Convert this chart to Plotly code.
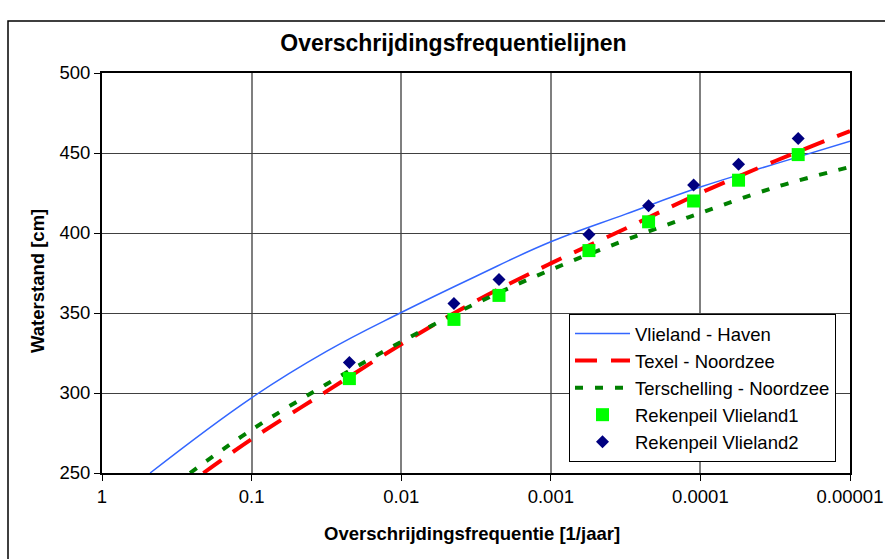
import plotly.graph_objects as go

# ---- data ----
vl_freq = [0.477, 0.1, 0.0316, 0.01, 0.00316, 0.001, 0.000316, 0.0001, 0.0000316, 0.00001]
vl_val = [250, 297, 326, 350.3, 373, 394.5, 411.8, 428.7, 443.2, 457.3]

tx_freq = [0.21, 0.1, 0.0316, 0.01, 0.00316, 0.001, 0.000316, 0.0001, 0.0000316, 0.00001]
tx_val = [250, 271.2, 301, 330.5, 357.5, 381, 402.8, 425, 445, 463.7]

ts_freq = [0.258, 0.1, 0.0316, 0.01, 0.00316, 0.001, 0.000316, 0.0001, 0.0000316, 0.00001]
ts_val = [250, 277, 305.5, 332, 356, 377, 395.6, 412.5, 428.6, 441.3]

pt_freq = [0.0222, 0.00444, 0.00222, 0.000556, 0.000222, 0.000111, 0.0000556, 0.0000222]
rek1 = [309, 346, 361, 389, 407, 420, 433, 449]
rek2 = [319, 356, 371, 399, 417, 430, 443, 459]

x_ticks = [1, 0.1, 0.01, 0.001, 0.0001, 0.00001]
x_ticktext = ["1", "0.1", "0.01", "0.001", "0.0001", "0.00001"]
y_ticks = [250, 300, 350, 400, 450, 500]

FONT = "Liberation Sans, Arial, sans-serif"

fig = go.Figure()
fig.add_trace(go.Scatter(x=vl_freq, y=vl_val, mode="lines", name="Vlieland - Haven",
                         line=dict(color="#3366ff", width=1.5, shape="spline", smoothing=1.2)))
fig.add_trace(go.Scatter(x=tx_freq, y=tx_val, mode="lines", name="Texel - Noordzee",
                         line=dict(color="#ff0000", width=4, dash="22px,14px", shape="spline", smoothing=1.0)))
fig.add_trace(go.Scatter(x=ts_freq, y=ts_val, mode="lines", name="Terschelling - Noordzee",
                         line=dict(color="#008000", width=4, dash="8px,12px", shape="spline", smoothing=1.0)))
fig.add_trace(go.Scatter(x=pt_freq, y=rek1, mode="markers", name="Rekenpeil Vlieland1",
                         marker=dict(symbol="square", size=13, color="#00ff00")))
fig.add_trace(go.Scatter(x=pt_freq, y=rek2, mode="markers", name="Rekenpeil Vlieland2",
                         marker=dict(symbol="diamond", size=10, color="#000080")))

L, R, T, B = 102, 35, 73, 86
W, H = 885, 559
pw = W - L - R
ph = H - T - B

fig.update_layout(
    width=W, height=H,
    margin=dict(l=L, r=R, t=T, b=B),
    paper_bgcolor="white", plot_bgcolor="white",
    font=dict(family=FONT, size=18, color="black"),
    title=dict(text="<b>Overschrijdingsfrequentielijnen</b>", x=453.5 / W, xanchor="center",
               y=1 - 43 / H, yanchor="middle", font=dict(size=23, family=FONT, color="black")),
    showlegend=True,
    legend=dict(x=(569 - L) / pw, y=(473 - 314) / ph, xanchor="left", yanchor="top",
                bgcolor="white", bordercolor="black", borderwidth=1,
                font=dict(size=18.5, family=FONT, color="black"),
                itemwidth=55, tracegroupgap=0),
    xaxis=dict(type="log", range=[0, -5], tickvals=x_ticks, ticktext=x_ticktext,
               automargin=False,
               showgrid=True, gridcolor="#7f7f7f", gridwidth=2,
               showline=True, linecolor="black", linewidth=2, mirror=True,
               ticks="outside", ticklen=6, tickcolor="black", tickwidth=1,
               tickfont=dict(size=18.5), zeroline=False),
    yaxis=dict(range=[250, 500], tickvals=y_ticks, automargin=False,
               showgrid=True, gridcolor="#404040", gridwidth=1,
               showline=True, linecolor="black", linewidth=2, mirror=True,
               ticks="outside", ticklen=6, tickcolor="black", tickwidth=1,
               tickfont=dict(size=18.5), zeroline=False),
    annotations=[
        dict(text="<b>Waterstand [cm]</b>", xref="paper", yref="paper",
             x=(37 - L) / pw, y=(473 - 281) / ph, textangle=-90, showarrow=False,
             xanchor="center", yanchor="middle", font=dict(size=18.5, family=FONT)),
        dict(text="<b>Overschrijdingsfrequentie [1/jaar]</b>", xref="paper", yref="paper",
             x=(472 - L) / pw, y=(473 - 533) / ph, showarrow=False,
             xanchor="center", yanchor="middle", font=dict(size=18.5, family=FONT)),
    ],
    shapes=[
        dict(type="rect", xref="paper", yref="paper",
             x0=(8 - L) / pw, x1=(900 - L) / pw, y0=(473 - 580) / ph, y1=(473 - 21) / ph,
             line=dict(color="black", width=1.5), fillcolor="rgba(0,0,0,0)", layer="below"),
    ],
)

fig.write_html("out.html")
